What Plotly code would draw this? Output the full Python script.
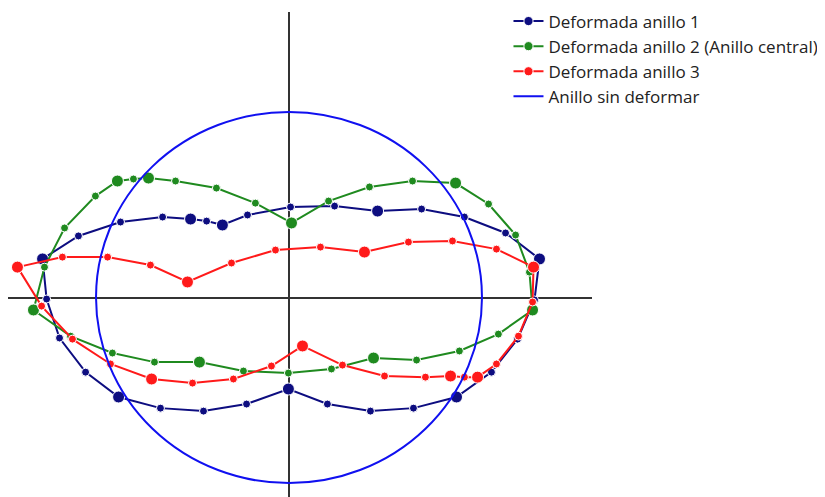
import plotly.graph_objects as go

# Undeformed ring radius (reference units)
radio_sin_deformar = 100

# Deformada anillo 1
x_anillo1 = [-127.7, -109.1, -87.3, -65.5, -51.0, -42.7, -34.5, -21.5, 0.8, 23.6,
             45.9, 68.7, 90.9, 112.2, 129.8, 127.2, 118.4, 104.9, 86.8, 64.5,
             42.2, 19.9, -0.3, -22.0, -44.3, -66.6, -88.3, -105.4, -118.9, -125.6]
y_anillo1 = [20.8, 33.2, 40.7, 43.4, 42.3, 41.2, 39.1, 44.5, 48.8, 49.3,
             46.6, 47.7, 43.4, 34.8, 20.8, -1.3, -22.4, -40.2, -53.6, -59.6,
             -61.2, -57.4, -49.3, -57.4, -61.2, -59.6, -53.6, -40.2, -21.8, -0.8]

# Deformada anillo 2 (Anillo central)
x_anillo2 = [-132.4, -126.7, -116.3, -100.3, -88.9, -80.6, -72.8, -58.8, -37.6, -17.4,
             1.3, 20.5, 41.7, 64.0, 86.3, 103.4, 117.4, 124.6, 126.2, 108.5,
             88.3, 66.1, 43.8, 22.0, -0.3, -23.6, -46.4, -69.7, -91.5, -113.2]
y_anillo2 = [-6.7, 16.4, 37.5, 54.7, 62.8, 63.9, 64.4, 62.8, 59.0, 50.9,
             40.2, 52.0, 59.6, 62.8, 61.7, 50.4, 33.7, 13.7, -6.7, -19.7,
             -28.8, -33.7, -32.6, -38.5, -40.7, -39.6, -34.8, -34.8, -29.9, -20.8]

# Deformada anillo 3
x_anillo3 = [-140.7, -117.4, -94.0, -71.8, -52.6, -29.8, -7.0, 16.3, 39.1, 61.9,
             84.7, 107.5, 126.7, 126.2, 118.9, 107.5, 97.7, 90.9, 83.7, 70.7,
             49.5, 27.7, 7.0, -9.1, -28.8, -50.0, -71.2, -92.5, -112.2, -128.2]
y_anillo3 = [16.4, 21.8, 21.8, 17.5, 8.4, 18.6, 25.6, 27.2, 24.5, 29.9,
             30.5, 26.1, 16.4, -2.4, -20.8, -35.8, -42.9, -42.9, -42.3, -42.9,
             -42.3, -36.4, -26.1, -36.9, -43.9, -46.1, -43.9, -35.8, -22.4, -4.6]

nombres = ["Deformada anillo 1", "Deformada anillo 2 (Anillo central)",
           "Deformada anillo 3", "Anillo sin deformar"]

# style: indices of the larger markers
grandes1 = [0, 4, 6, 10, 14, 18, 22, 26]
grandes2 = [0, 4, 6, 10, 14, 18, 22, 26]
grandes3 = [0, 4, 8, 12, 16, 18, 22, 26]

colores = ["#0d0d80", "#1f8a1f", "#ff1a1a", "#1010f0"]


def cerrar(v):
    return list(v) + [v[0]]


def tamanos(n, grandes):
    s = [8] * n
    for i in grandes:
        s[i] = 12
    return s + [s[0]]


fig = go.Figure()

# Undeformed ring as a shape in data coordinates
fig.add_shape(type="circle", xref="x", yref="y",
              x0=-radio_sin_deformar, x1=radio_sin_deformar,
              y0=-radio_sin_deformar, y1=radio_sin_deformar,
              line=dict(color=colores[3], width=2), layer="above")

for xs, ys, g, c, n in [(x_anillo1, y_anillo1, grandes1, colores[0], nombres[0]),
                        (x_anillo2, y_anillo2, grandes2, colores[1], nombres[1]),
                        (x_anillo3, y_anillo3, grandes3, colores[2], nombres[2])]:
    fig.add_trace(go.Scatter(
        x=cerrar(xs), y=cerrar(ys), mode="lines+markers", name=n,
        line=dict(color=c, width=2),
        marker=dict(color=c, size=tamanos(len(xs), g), opacity=1),
    ))

fig.add_trace(go.Scatter(x=[None], y=[None], mode="lines", name=nombres[3],
                         line=dict(color=colores[3], width=2)))

fig.update_layout(
    width=825, height=497,
    margin=dict(l=0, r=241, t=4, b=8, autoexpand=False),
    paper_bgcolor="white", plot_bgcolor="white",
    font=dict(family="Open Sans", size=17, color="#222"),
    showlegend=True,
    legend=dict(x=0.857, y=1.0175, xanchor="left", yanchor="top",
                bgcolor="rgba(0,0,0,0)", font=dict(size=17),
                tracegroupgap=0),
    xaxis=dict(range=[-145.6, 157.0], showgrid=False, showticklabels=False,
               ticks="", zeroline=True, zerolinecolor="#333", zerolinewidth=1.5,
               showline=False),
    yaxis=dict(range=[-107.5, 153.9], showgrid=False, showticklabels=False,
               ticks="", zeroline=True, zerolinecolor="#333", zerolinewidth=1.5,
               showline=False),
)

fig.write_html("out.html")
